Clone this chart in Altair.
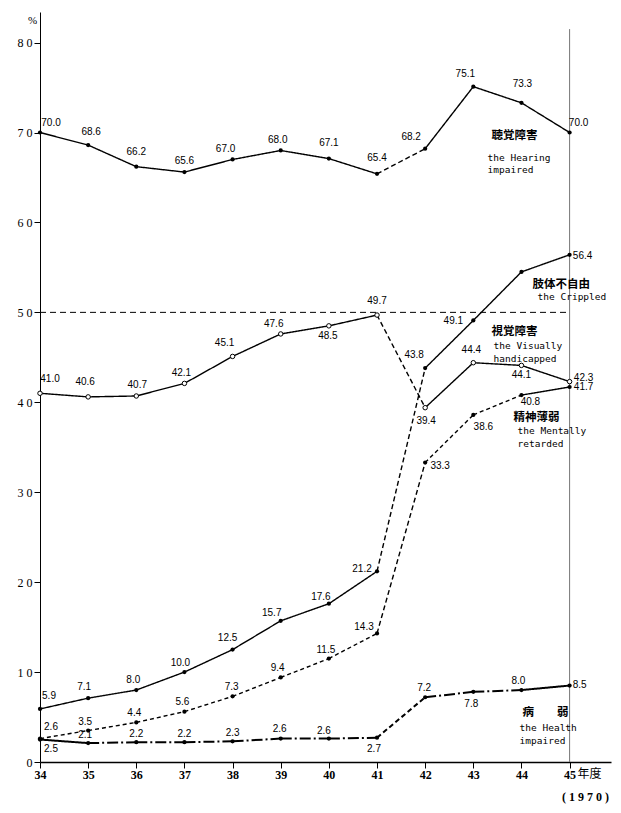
import altair as alt
import pandas as pd

# ---- data ----
years = [34, 35, 36, 37, 38, 39, 40, 41, 42, 43, 44, 45]
hearing = [70.0, 68.6, 66.2, 65.6, 67.0, 68.0, 67.1, 65.4, 68.2, 75.1, 73.3, 70.0]
visual = [41.0, 40.6, 40.7, 42.1, 45.1, 47.6, 48.5, 49.7, 39.4, 44.4, 44.1, 42.3]
crippled = [5.9, 7.1, 8.0, 10.0, 12.5, 15.7, 17.6, 21.2, 43.8, 49.1, 54.5, 56.4]
mental = [2.6, 3.5, 4.4, 5.6, 7.3, 9.4, 11.5, 14.3, 33.3, 38.6, 40.8, 41.7]
health = [2.5, 2.1, 2.2, 2.2, 2.3, 2.6, 2.6, 2.7, 7.2, 7.8, 8.0, 8.5]
crippled_labelled = [True] * 10 + [False, True]

# ---- styles (segment dash styles, label offsets in px) ----
st_main = ["s"] * 7 + ["d"] + ["s"] * 3
st_mental = ["m"] * 7 + ["d"] + ["m"] * 2 + ["s"]
st_health = ["s"] + ["dd"] * 6 + ["d"] + ["dd"] * 2 + ["s"]

off_hearing = [(11, -10), (3, -13), (0, -15), (0, -11), (-7, -10), (-3, -10),
               (0, -16), (0, -16), (-14, -12), (-8, -13), (1, -19), (9, -10)]
off_visual = [(10, -14), (-3, -15), (1, -11), (-3, -10), (-8, -13), (-7, -10),
              (-1, 10), (0, -14), (1, 13), (-2, -13), (0, 10), (14, -4)]
off_crippled = [(9, -13), (-4, -11), (-3, -10), (-4, -9), (-5, -12), (-9, -8),
                (-8, -7), (-15, -2), (-11, -13), (-20, 1), (0, 0), (13, 1)]
off_mental = [(11, -12), (-3, -9), (-2, -9), (-2, -10), (-1, -9), (-3, -9),
              (-3, -9), (-13, -6), (15, 3), (10, 12), (9, 7), (14, 0)]
off_health = [(11, 9), (-3, -8), (0, -8), (0, -8), (0, -8), (-1, -10),
              (-5, -8), (-3, 11), (-1, -9), (-2, 12), (-3, -9), (10, -1)]

# annotations anchored at each series' last point (x=45): text, series, dx, dy, kind
annotations = [
    ("聴覚障害", "hearing", -78, 3, "jp"),
    ("the Hearing", "hearing", -82, 25, "en"),
    ("impaired", "hearing", -82, 37, "en"),
    ("肢体不自由", "crippled", -37, 30, "jp"),
    ("the Crippled", "crippled", -32, 42, "en"),
    ("視覚障害", "visual", -78, -50, "jp"),
    ("the Visually", "visual", -76, -36, "en"),
    ("handicapped", "visual", -76, -23, "en"),
    ("精神薄弱", "mental", -56, 31, "jp"),
    ("the Mentally", "mental", -52, 44, "en"),
    ("retarded", "mental", -52, 57, "en"),
    ("病　　弱", "health", -47, 27, "jp"),
    ("the Health", "health", -50, 42, "en"),
    ("impaired", "health", -50, 55, "en"),
]

series = {
    "hearing": (hearing, st_main, off_hearing, True),
    "visual": (visual, st_main, off_visual, False),
    "crippled": (crippled, st_main, off_crippled, True),
    "mental": (mental, st_mental, off_mental, True),
    "health": (health, st_health, off_health, True),
}

# ---- scales / axes ----
W, H = 571, 750
XDOM = [34, 45.86]
YDOM = [0, 83.4]
PX_X = W / (XDOM[1] - XDOM[0])   # pixels per year
PX_Y = H / (YDOM[1] - YDOM[0])   # pixels per percent

xscale = alt.Scale(domain=XDOM, nice=False, zero=False)
yscale = alt.Scale(domain=YDOM, nice=False, zero=True)

xaxis = alt.Axis(values=years, title="", tickSize=6, labelPadding=1,
                 labelFont="Liberation Serif", labelFontSize=12, labelFontWeight="bold",
                 labelColor="black", domainColor="black", tickColor="black",
                 domainWidth=1.3, tickWidth=1, grid=False, labelFlush=False)
yaxis = alt.Axis(values=[0, 10, 20, 30, 40, 50, 60, 70, 80], title="%", titleAngle=0,
                 titleX=-8, titleY=8, titleFontSize=11, titleFont="Liberation Serif",
                 titleFontWeight="normal", titleAlign="center", titleBaseline="middle",
                 titleColor="black",
                 labelExpr="datum.value == 0 ? '0' : (datum.value / 10) + ' 0'",
                 labelFont="Liberation Serif", labelFontSize=12, labelColor="black",
                 tickSize=6, labelPadding=2, grid=False, domainColor="black",
                 tickColor="black", domainWidth=1, labelFlush=False)


def X(field="year"):
    return alt.X(f"{field}:Q", scale=xscale, axis=xaxis)


def Y(field="value"):
    return alt.Y(f"{field}:Q", scale=yscale, axis=yaxis)


def place(df):
    # shift label anchors by their pixel offsets, converted through the scale units
    df = df.copy()
    df["lx"] = df["year"] + df["dx"] / PX_X
    df["ly"] = df["value"] - df["dy"] / PX_Y
    return df


dash_scale = alt.Scale(domain=["s", "d", "m", "dd"],
                       range=[[1, 0], [5, 3], [4, 3], [11, 3, 2, 3]])

layers = []

# reference lines
layers.append(alt.Chart().mark_rule(color="#777777", strokeWidth=1).encode(
    x=alt.X(datum=45, scale=xscale, axis=xaxis),
    y=alt.Y(datum=0, scale=yscale, axis=yaxis), y2=alt.datum(81.5)))
layers.append(alt.Chart().mark_rule(color="black", strokeWidth=1, strokeDash=[6, 4]).encode(
    x=alt.X(datum=34, scale=xscale, axis=xaxis), x2=alt.datum(45),
    y=alt.Y(datum=50, scale=yscale, axis=yaxis)))

for name, (vals, styles, offs, filled) in series.items():
    seg_rows = []
    for i in range(len(vals) - 1):
        for j in (i, i + 1):
            seg_rows.append({"year": years[j], "value": vals[j],
                             "seg": f"{name}{i}", "style": styles[i]})
    seg_df = pd.DataFrame(seg_rows)
    width = 2.0 if name == "health" else 1.4
    layers.append(alt.Chart(seg_df).mark_line(color="black", strokeWidth=width).encode(
        X(), Y(), detail="seg:N",
        strokeDash=alt.StrokeDash("style:N", scale=dash_scale, legend=None)))

    pts = pd.DataFrame({"year": years, "value": vals})
    if filled:
        layers.append(alt.Chart(pts).mark_circle(color="black", size=18, opacity=1).encode(X(), Y()))
    else:
        layers.append(alt.Chart(pts).mark_point(shape="circle", filled=False, fill="white",
                                                color="black", size=20, strokeWidth=1,
                                                opacity=1).encode(X(), Y()))

    lab_rows = []
    for k, v in enumerate(vals):
        if name == "crippled" and not crippled_labelled[k]:
            continue
        lab_rows.append({"year": years[k], "value": v, "label": f"{v:.1f}",
                         "dx": offs[k][0], "dy": offs[k][1]})
    lab_df = place(pd.DataFrame(lab_rows))
    layers.append(alt.Chart(lab_df).mark_text(font="Liberation Sans", fontSize=10,
                                              color="black", align="center",
                                              baseline="middle").encode(
        X("lx"), Y("ly"), text="label:N"))

# series name annotations
ann_rows = []
for text, sname, dx, dy, kind in annotations:
    ann_rows.append({"year": 45, "value": series[sname][0][-1], "text": text,
                     "dx": dx, "dy": dy, "kind": kind})
ann_df = place(pd.DataFrame(ann_rows))
layers.append(alt.Chart(ann_df[ann_df["kind"] == "jp"]).mark_text(
    font="Noto Sans CJK JP", fontSize=11.5, fontWeight="bold", color="black",
    align="left", baseline="middle").encode(X("lx"), Y("ly"), text="text:N"))
layers.append(alt.Chart(ann_df[ann_df["kind"] == "en"]).mark_text(
    font="DejaVu Sans Mono", fontSize=9.5, color="black",
    align="left", baseline="middle").encode(X("lx"), Y("ly"), text="text:N"))

# x-axis suffix texts
layers.append(alt.Chart().mark_text(font="Noto Sans CJK JP", fontSize=12, color="black",
                                    align="left", baseline="middle", dx=8, dy=12).encode(
    x=alt.X(datum=45, scale=xscale, axis=xaxis), y=alt.Y(datum=0, scale=yscale, axis=yaxis),
    text=alt.value("年度")))
layers.append(alt.Chart().mark_text(font="Liberation Serif", fontSize=12, fontWeight="bold",
                                    color="black", align="center", baseline="middle",
                                    dx=16, dy=35).encode(
    x=alt.X(datum=45, scale=xscale, axis=xaxis), y=alt.Y(datum=0, scale=yscale, axis=yaxis),
    text=alt.value("( 1 9 7 0 )")))

chart = alt.layer(*layers).properties(
    width=W, height=H,
    padding={"left": 32, "top": 4, "right": 2, "bottom": 43},
    autosize=alt.AutoSizeParams(type="none"),
    background="white",
).configure_view(strokeWidth=0)

chart.save("out.html", embed_options={"renderer": "svg", "actions": False})
